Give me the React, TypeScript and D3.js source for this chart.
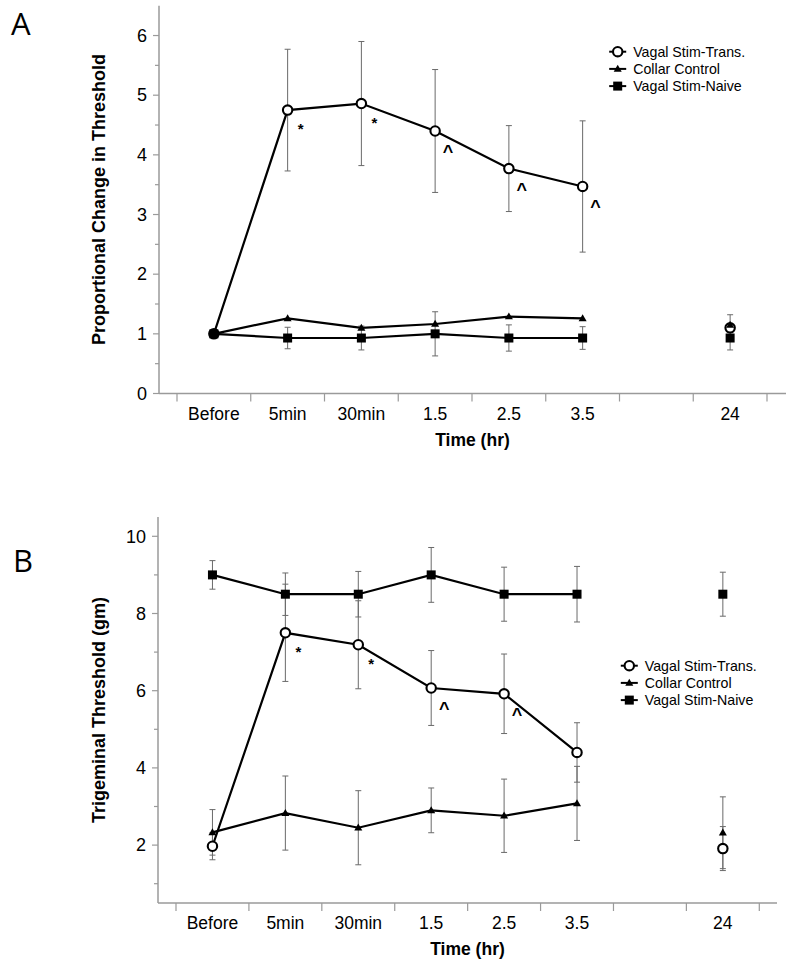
import React from 'react';
import * as d3 from 'd3';

// ---- data ----
const slots = ["Before", "5min", "30min", "1.5", "2.5", "3.5", "gap", "24"];
const slotLabels = ["Before", "5min", "30min", "1.5", "2.5", "3.5", "", "24"];
const timePoints = ["Before", "5min", "30min", "1.5", "2.5", "3.5", "24"];
const connectedCount = 6;
const seriesNames = ["Vagal Stim-Trans.", "Collar Control", "Vagal Stim-Naive"];

// Panel A: proportional change in threshold
const transA = [1.0, 4.75, 4.86, 4.40, 3.77, 3.47, 1.10];
const transAErr = [0, 1.02, 1.04, 1.03, 0.72, 1.10, 0.22];
const collarA = [1.0, 1.26, 1.10, 1.165, 1.29, 1.26, 1.15];
const collarAErr = [0, 0, 0, 0, 0, 0, 0];
const naiveA = [1.0, 0.93, 0.93, 1.0, 0.93, 0.93, 0.93];
const naiveAErr = [0, 0.18, 0.2, 0.37, 0.22, 0.19, 0.2];
const annotA = ["", "*", "*", "^", "^", "^", ""];
const yTicksA = [0, 1, 2, 3, 4, 5, 6];
const yMinorA = [0.5, 1.5, 2.5, 3.5, 4.5, 5.5];

// Panel B: trigeminal threshold (gm)
const transB = [1.97, 7.50, 7.19, 6.07, 5.92, 4.40, 1.91];
const transBErr = [0.35, 1.26, 1.14, 0.97, 1.03, 0.77, 0.57];
const collarB = [2.33, 2.83, 2.45, 2.90, 2.76, 3.08, 2.32];
const collarBErr = [0.59, 0.96, 0.96, 0.58, 0.95, 0.96, 0.93];
const naiveB = [9.0, 8.5, 8.5, 9.0, 8.5, 8.5, 8.5];
const naiveBErr = [0.37, 0.55, 0.59, 0.71, 0.70, 0.72, 0.57];
const annotB = ["", "*", "*", "^", "^", "", ""];
const yTicksB = [2, 4, 6, 8, 10];
const yMinorB = [1, 3, 5, 7, 9];

const FONT = "'Liberation Sans', Arial, Helvetica, sans-serif";
const AXIS_COLOR = "#9a9a9a";
const ERR_COLOR = "#6a6a6a";

type PanelCfg = {
  letter: string;
  letterPos: [number, number];
  yTitle: string;
  yDomain: [number, number];
  yRange: [number, number];
  xRange: [number, number];
  axisX: [number, number];
  yTicks: number[];
  yMinor: number[];
  series: { values: number[]; errs: number[]; shape: string }[];
  annot: string[];
  legendPos: [number, number];
};

const Marker = ({ shape, x, y }: { shape: string; x: number; y: number }) => {
  if (shape === 'circle')
    return <circle cx={x} cy={y} r={4.7} fill="#fff" stroke="#000" strokeWidth={2.1} />;
  if (shape === 'square')
    return <rect x={x - 4.5} y={y - 4.5} width={9} height={9} fill="#000" />;
  const p = d3.symbol(d3.symbolTriangle, 28)() as string;
  return <path d={p} transform={`translate(${x},${y + 0.5})`} fill="#000" />;
};

const Panel = ({ cfg }: { cfg: PanelCfg }) => {
  const x = d3.scaleBand<string>().domain(slots).range(cfg.xRange).padding(0);
  const y = d3.scaleLinear().domain(cfg.yDomain).range(cfg.yRange);
  const cx = (t: string) => (x(t) as number) + x.bandwidth() / 2;
  const y0 = cfg.yRange[0];
  const line = d3.line<number>().x((_, i) => cx(timePoints[i])).y((v) => y(v));
  const boundaries = slots.map((s) => x(s) as number).concat([cfg.xRange[1]]);
  const axisMid = (cfg.axisX[0] + cfg.axisX[1]) / 2;
  const yMid = (cfg.yRange[0] + cfg.yRange[1]) / 2;
  const order = [0, 1, 2];
  return (
    <g>
      <text x={cfg.letterPos[0]} y={cfg.letterPos[1]} fontFamily="'Open Sans', sans-serif" fontSize={31} fill="#000">
        {cfg.letter}
      </text>
      {/* axes */}
      <line x1={cfg.axisX[0]} x2={cfg.axisX[0]} y1={y0} y2={cfg.yRange[1]} stroke={AXIS_COLOR} strokeWidth={1.5} />
      <line x1={cfg.axisX[0]} x2={cfg.axisX[1]} y1={y0} y2={y0} stroke={AXIS_COLOR} strokeWidth={1.5} />
      {cfg.yTicks.map((t) => (
        <g key={'yt' + t}>
          <line x1={cfg.axisX[0] - 6} x2={cfg.axisX[0]} y1={y(t)} y2={y(t)} stroke={AXIS_COLOR} strokeWidth={1.2} />
          <text x={cfg.axisX[0] - 12} y={y(t)} dy="0.35em" textAnchor="end" fontFamily={FONT} fontSize={18} fill="#000">
            {t}
          </text>
        </g>
      ))}
      {cfg.yMinor.map((t) => (
        <line key={'ym' + t} x1={cfg.axisX[0] - 4} x2={cfg.axisX[0]} y1={y(t)} y2={y(t)} stroke={AXIS_COLOR} strokeWidth={1.2} />
      ))}
      {boundaries.map((b, i) => (
        <line key={'xt' + i} x1={b} x2={b} y1={y0} y2={y0 + 8} stroke={AXIS_COLOR} strokeWidth={1.2} />
      ))}
      {slots.map((s, i) => (
        <text key={'xl' + s} x={cx(s)} y={y0 + 20} dy="0.35em" textAnchor="middle" fontFamily={FONT} fontSize={17.5} fill="#000">
          {slotLabels[i]}
        </text>
      ))}
      <text x={axisMid} y={y0 + 46} dy="0.35em" textAnchor="middle" fontFamily={FONT} fontWeight="bold" fontSize={17.5} fill="#000">
        Time (hr)
      </text>
      <text
        transform={`translate(99,${yMid}) rotate(-90)`}
        dy="0.35em"
        textAnchor="middle"
        fontFamily={FONT}
        fontWeight="bold"
        fontSize={18}
        fill="#000"
      >
        {cfg.yTitle}
      </text>
      {/* error bars */}
      {cfg.series.map((s, si) =>
        s.values.map((v, i) =>
          s.errs[i] > 0 ? (
            <g key={`e${si}-${i}`} stroke={ERR_COLOR} strokeWidth={1}>
              <line x1={cx(timePoints[i])} x2={cx(timePoints[i])} y1={y(v - s.errs[i])} y2={y(v + s.errs[i])} />
              <line x1={cx(timePoints[i]) - 3} x2={cx(timePoints[i]) + 3} y1={y(v - s.errs[i])} y2={y(v - s.errs[i])} />
              <line x1={cx(timePoints[i]) - 3} x2={cx(timePoints[i]) + 3} y1={y(v + s.errs[i])} y2={y(v + s.errs[i])} />
            </g>
          ) : null
        )
      )}
      {/* lines */}
      {cfg.series.map((s, si) => (
        <path key={'l' + si} d={line(s.values.slice(0, connectedCount)) as string} fill="none" stroke="#000" strokeWidth={2.2} />
      ))}
      {/* markers */}
      {order.map((si) =>
        cfg.series[si].values.map((v, i) => (
          <Marker key={`m${si}-${i}`} shape={cfg.series[si].shape} x={cx(timePoints[i])} y={y(v)} />
        ))
      )}
      {/* annotations */}
      {cfg.annot.map((a, i) =>
        a ? (
          <text
            key={'a' + i}
            x={cx(timePoints[i]) + 13}
            y={y(cfg.series[0].values[i]) + (a === '*' ? 24 : 27)}
            textAnchor="middle"
            fontFamily={FONT}
            fontWeight="bold"
            fontSize={a === '*' ? 15 : 18}
            fill="#000"
          >
            {a}
          </text>
        ) : null
      )}
      {/* legend */}
      {seriesNames.map((n, i) => {
        const lx = cfg.legendPos[0];
        const ly = cfg.legendPos[1] + i * 17.2;
        return (
          <g key={'lg' + i}>
            <line x1={lx - 8.5} x2={lx + 8.5} y1={ly} y2={ly} stroke="#000" strokeWidth={2} />
            <Marker shape={cfg.series[i].shape} x={lx} y={ly} />
            <text x={lx + 15.5} y={ly} dy="0.36em" fontFamily={FONT} fontSize={14.2} fill="#000">
              {n}
            </text>
          </g>
        );
      })}
    </g>
  );
};

const panelA: PanelCfg = {
  letter: 'A',
  letterPos: [11, 35],
  yTitle: 'Proportional Change in Threshold',
  yDomain: [0, 6.5],
  yRange: [393.5, 5.7],
  xRange: [177, 767],
  axisX: [159, 786],
  yTicks: yTicksA,
  yMinor: yMinorA,
  series: [
    { values: transA, errs: transAErr, shape: 'circle' },
    { values: collarA, errs: collarAErr, shape: 'triangle' },
    { values: naiveA, errs: naiveAErr, shape: 'square' },
  ],
  annot: annotA,
  legendPos: [617.7, 51.7],
};

const panelB: PanelCfg = {
  letter: 'B',
  letterPos: [13, 572],
  yTitle: 'Trigeminal Threshold (gm)',
  yDomain: [0.5, 10.5],
  yRange: [903, 517],
  xRange: [176, 759.3],
  axisX: [158, 777],
  yTicks: yTicksB,
  yMinor: yMinorB,
  series: [
    { values: transB, errs: transBErr, shape: 'circle' },
    { values: collarB, errs: collarBErr, shape: 'triangle' },
    { values: naiveB, errs: naiveBErr, shape: 'square' },
  ],
  annot: annotB,
  legendPos: [629.3, 665.7],
};

export default function App() {
  return (
    <svg
      width={794}
      height={969}
      viewBox="0 0 794 969"
      style={{ position: 'absolute', left: 0, top: 0, background: '#fff' }}
    >
      <rect width={794} height={969} fill="#fff" />
      <Panel cfg={panelA} />
      <Panel cfg={panelB} />
    </svg>
  );
}
